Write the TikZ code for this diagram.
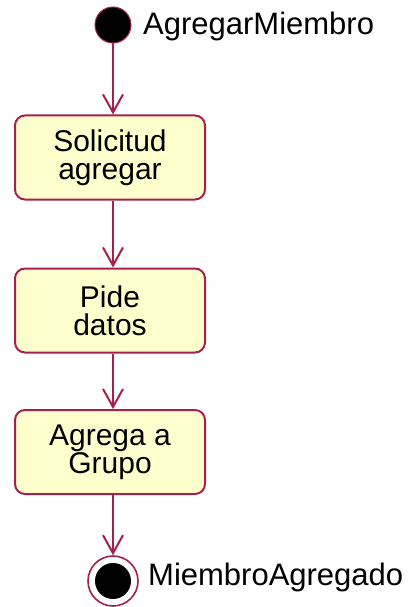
\documentclass[tikz,border=0pt]{standalone}
\usepackage{fontspec}
\setmainfont{Liberation Sans}
\usetikzlibrary{arrows.meta}
\definecolor{umlred}{RGB}{165,32,80}
\definecolor{umlfill}{RGB}{255,255,206}
\begin{document}
\begin{tikzpicture}[x=1pt,y=-1pt,>={Straight Barb[length=18pt,width=20pt]},flow/.style={->, umlred, line width=2pt},activity/.style={draw=umlred, fill=umlfill, line width=2pt, rounded corners=10pt, minimum width=190pt, minimum height=84pt, align=center, font=\fontsize{30}{28}\selectfont},initial/.style={circle, draw=umlred, fill=black, line width=1pt, minimum size=36pt, inner sep=0pt},final/.style={circle, draw=umlred, fill=white, line width=1.6pt, minimum size=50pt, inner sep=0pt},statelabel/.style={anchor=base west, inner sep=0pt, font=\fontsize{31}{31}\selectfont}]
\useasboundingbox (0,0) rectangle (412,607);
\node[initial] (start) at (113,25) {}; \node[statelabel] (startlbl) at (143,35) {AgregarMiembro};
\node[activity] (solicitud) at (110,157.5) {Solicitud\\agregar};
\node[activity] (pide) at (110,310.5) {Pide\\datos};
\node[activity] (agrega) at (110,452) {Agrega a\\Grupo};
\node[final] (fin) at (113,581) {}; \fill (fin) circle (18pt); \node[statelabel] (finlbl) at (148,585) {MiembroAgregado};
\draw[flow] (start) -- (start |- solicitud.north);
\draw[flow] (solicitud.south -| start) -- (start |- pide.north);
\draw[flow] (pide.south -| start) -- (start |- agrega.north);
\draw[flow] (agrega.south -| start) -- (fin);
\end{tikzpicture}
\end{document}
